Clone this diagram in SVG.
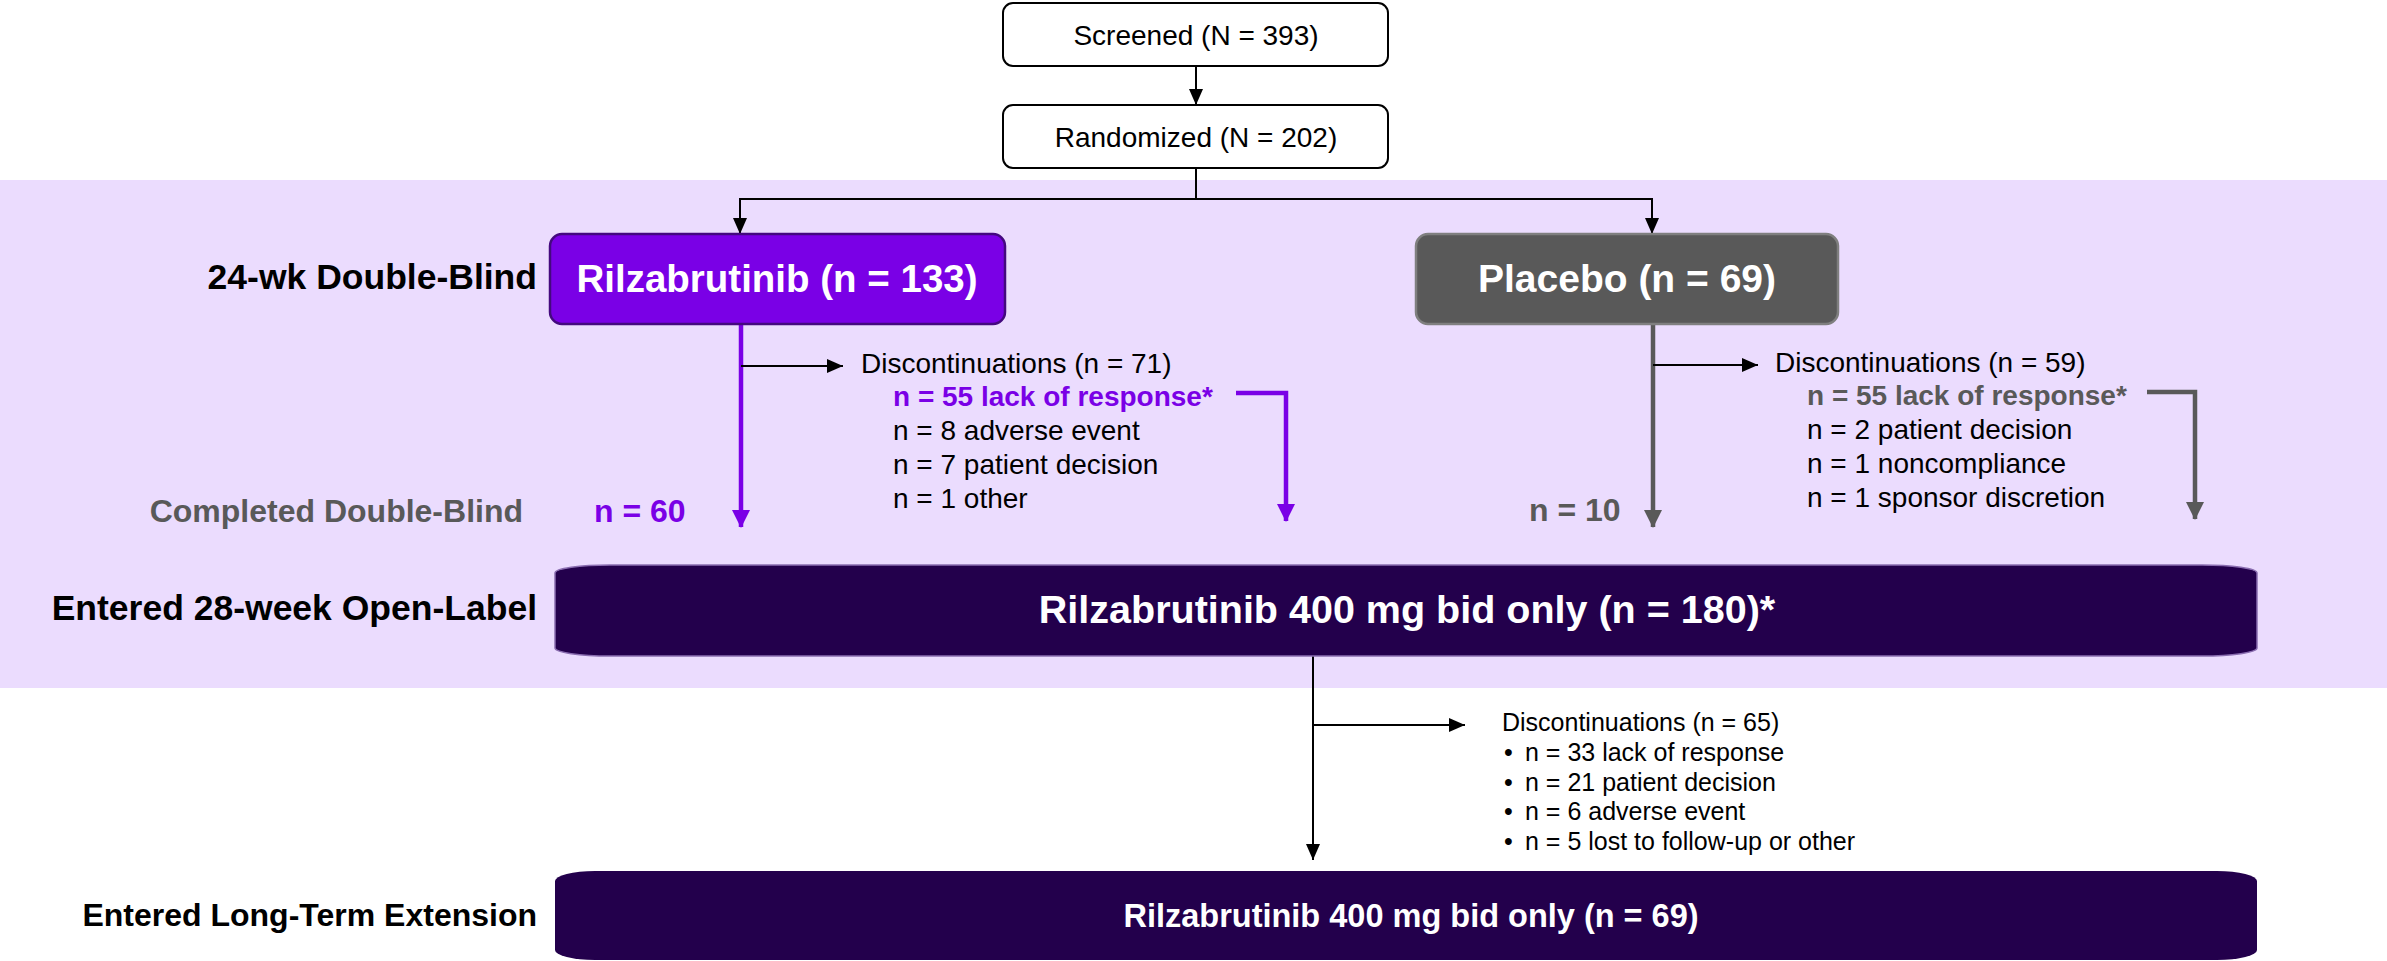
<svg xmlns="http://www.w3.org/2000/svg" width="2387" height="961" viewBox="0 0 2387 961">
<defs>
<style>
text{font-family:"Liberation Sans",Arial,sans-serif;}
.reg{font-size:28px;fill:#000;}
.sm{font-size:25px;fill:#000;}
.b{font-weight:bold;}
.lbl{font-weight:bold;font-size:35.5px;fill:#000;text-anchor:end;}
.wt{fill:#fff;font-weight:bold;text-anchor:middle;}
.pu{fill:#7A00E6;}
.gy{fill:#595959;}
.box{fill:#fff;stroke:#000;stroke-width:2;}
.blk{fill:none;stroke:#000;stroke-width:2;marker-end:url(#ab);}
.pln{fill:none;stroke:#7A00E6;stroke-width:4.5;marker-end:url(#ap);}
.gln{fill:none;stroke:#595959;stroke-width:4.5;marker-end:url(#ag);}
</style>
<marker id="ab" markerUnits="userSpaceOnUse" markerWidth="16" markerHeight="14" refX="16" refY="7" orient="auto"><path d="M0,0 L16,7 L0,14 Z" fill="#000"/></marker>
<marker id="ap" markerUnits="userSpaceOnUse" markerWidth="18" markerHeight="18" refX="17" refY="9" orient="auto"><path d="M0,0 L18,9 L0,18 Z" fill="#7A00E6"/></marker>
<marker id="ag" markerUnits="userSpaceOnUse" markerWidth="18" markerHeight="18" refX="17" refY="9" orient="auto"><path d="M0,0 L18,9 L0,18 Z" fill="#595959"/></marker>
</defs>
<rect width="2387" height="961" fill="#fff"/>
<rect id="band" x="0" y="180" width="2387" height="508" fill="#EBDCFE"/>

<g id="connectors">
<path class="blk" d="M1196,66 V105"/>
<path class="blk" d="M1196,168 V199 H740 V234"/>
<path class="blk" d="M1196,199 H1652 V234"/>
<path class="pln" d="M741,324 V527"/>
<path class="blk" d="M741,366 H843"/>
<path class="pln" d="M1236,393 H1286 V521"/>
<path class="gln" d="M1653,324 V527"/>
<path class="blk" d="M1653,365 H1758"/>
<path class="gln" d="M2147,392 H2195 V519"/>
<path class="blk" d="M1313,656 V860"/>
<path class="blk" d="M1313,725 H1465"/>
</g>

<g id="screened">
<rect class="box" x="1003" y="3" width="385" height="63" rx="10"/>
<text class="reg" x="1196" y="45" text-anchor="middle">Screened (N = 393)</text>
</g>
<g id="randomized">
<rect class="box" x="1003" y="105" width="385" height="63" rx="10"/>
<text class="reg" x="1196" y="147" text-anchor="middle">Randomized (N = 202)</text>
</g>

<g id="label-db"><text class="lbl" x="537" y="289">24-wk Double-Blind</text></g>
<g id="label-completed"><text class="b gy" x="523" y="522" text-anchor="end" style="font-size:32px">Completed Double-Blind</text></g>
<g id="label-ol"><text class="lbl" x="537" y="620">Entered 28-week Open-Label</text></g>
<g id="label-lte"><text class="lbl" x="537" y="926" style="font-size:32px">Entered Long-Term Extension</text></g>

<g id="rilza">
<rect x="550" y="234" width="455" height="90" rx="12" fill="#7A00E6" stroke="#44097F" stroke-width="2.5"/>
<text class="wt" x="777" y="292" style="font-size:38.5px">Rilzabrutinib (n = 133)</text>
</g>
<g id="placebo">
<rect x="1416" y="234" width="422" height="90" rx="12" fill="#595959" stroke="#7F7F7F" stroke-width="2.5"/>
<text class="wt" x="1627" y="292" style="font-size:39px">Placebo (n = 69)</text>
</g>

<g id="rilza-disc">
<text class="reg" x="861" y="373">Discontinuations (n = 71)</text>
<text class="reg b pu" x="893" y="406">n = 55 lack of response*</text>
<text class="reg" x="893" y="440">n = 8 adverse event</text>
<text class="reg" x="893" y="474">n = 7 patient decision</text>
<text class="reg" x="893" y="508">n = 1 other</text>
</g>
<g id="rilza-completed"><text class="b pu" x="594" y="522" style="font-size:32px">n = 60</text></g>

<g id="placebo-disc">
<text class="reg" x="1775" y="372">Discontinuations (n = 59)</text>
<text class="reg b gy" x="1807" y="405">n = 55 lack of response*</text>
<text class="reg" x="1807" y="439">n = 2 patient decision</text>
<text class="reg" x="1807" y="473">n = 1 noncompliance</text>
<text class="reg" x="1807" y="507">n = 1 sponsor discretion</text>
</g>
<g id="placebo-completed"><text class="b gy" x="1529" y="521" style="font-size:32px">n = 10</text></g>

<g id="open-label">
<path d="M610,565 H2202 A55,8 0 0 1 2257,573 V648 A55,8 0 0 1 2202,656 H610 A55,8 0 0 1 555,648 V573 A55,8 0 0 1 610,565 Z" fill="#23004C" stroke="#8A6DB0" stroke-width="1.5"/>
<text class="wt" x="1407" y="623" style="font-size:39.5px">Rilzabrutinib 400 mg bid only (n = 180)*</text>
</g>

<g id="ol-disc">
<text class="sm" x="1502" y="731">Discontinuations (n = 65)</text>
<text class="sm" x="1504" y="761">•</text><text class="sm" x="1525" y="761">n = 33 lack of response</text>
<text class="sm" x="1504" y="791">•</text><text class="sm" x="1525" y="791">n = 21 patient decision</text>
<text class="sm" x="1504" y="820">•</text><text class="sm" x="1525" y="820">n = 6 adverse event</text>
<text class="sm" x="1504" y="850">•</text><text class="sm" x="1525" y="850">n = 5 lost to follow-up or other</text>
</g>

<g id="lte">
<path d="M595,871 H2217 A40,10 0 0 1 2257,881 V950 A40,10 0 0 1 2217,960 H595 A40,10 0 0 1 555,950 V881 A40,10 0 0 1 595,871 Z" fill="#23004C"/>
<text class="wt" x="1411" y="927" style="font-size:32.5px">Rilzabrutinib 400 mg bid only (n = 69)</text>
</g>
</svg>
